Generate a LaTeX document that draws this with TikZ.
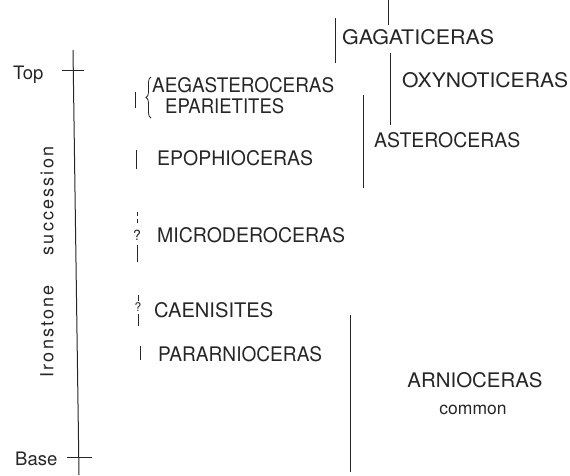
\documentclass[tikz,border=0pt]{standalone}
\usepackage{fontspec}
\usepackage{graphicx}
\setmainfont{TeX Gyre Heros}
\usetikzlibrary{decorations.pathreplacing}
\definecolor{ink}{gray}{0.15}
\newcommand{\fitcap}[2]{\resizebox{#1}{15pt}{\fontsize{19.5}{22}\selectfont #2}}
\tikzset{
  genus/.style={anchor=west, inner sep=0pt, text=ink},
  lbl/.style={inner sep=0pt, font=\fontsize{18.5}{21}\selectfont, text=ink},
  qmark/.style={inner sep=0pt, text=ink},
  rangeline/.style={draw=ink, line width=0.9pt},
  axisline/.style={draw=ink, line width=1pt}
}
\begin{document}
\begin{tikzpicture}[x=1pt, y=-1pt]
\useasboundingbox (0,0) rectangle (570,475);
% main axis
\coordinate (axtop) at (73,50);
\coordinate (axbot) at (79,475);
\draw[axisline] (axtop) -- (axbot);
\coordinate (tt1) at (62,70); \coordinate (tt2) at (84,70);
\draw[axisline] (tt1) -- (tt2);
\coordinate (bt1) at (67,457); \coordinate (bt2) at (92,457);
\draw[axisline] (bt1) -- (bt2);
\node[lbl, anchor=base west] (top) at (13,79) {Top};
\node[lbl, anchor=base west] (base) at (15,465) {Base};
\node[lbl, rotate=90, font=\fontsize{18}{21}\selectfont\addfontfeature{LetterSpace=12}] (succ) at (47,262) {Ironstone\hspace{30pt}succession};
% left column genera
\node[genus] (aeg) at (152,85) {\fitcap{182pt}{AEGASTEROCERAS}};
\node[genus] (epa) at (165,106) {\fitcap{119pt}{EPARIETITES}};
\node[genus] (epo) at (157,158) {\fitcap{156pt}{EPOPHIOCERAS}};
\node[genus] (mic) at (157,235) {\fitcap{188pt}{MICRODEROCERAS}};
\node[genus] (cae) at (154,310) {\fitcap{119pt}{CAENISITES}};
\node[genus] (par) at (158,354) {\fitcap{164pt}{PARARNIOCERAS}};
% brace
\coordinate (brb) at (151,118); \coordinate (brt) at (151,77);
\draw[ink, line width=0.8pt, decorate, decoration={brace, amplitude=5pt}] (brb) -- (brt);
% small range marks
\coordinate (m1a) at (135,92); \coordinate (m1b) at (135,108);
\draw[rangeline] (m1a) -- (m1b);
\coordinate (m2a) at (136,150); \coordinate (m2b) at (136,169);
\draw[rangeline] (m2a) -- (m2b);
\coordinate (m3a) at (137,212); \coordinate (m3b) at (137,225);
\draw[rangeline, dash pattern=on 4pt off 3pt] (m3a) -- (m3b);
\node[qmark, font=\fontsize{14}{15}\selectfont] (q1) at (137,235) {?};
\coordinate (m3c) at (137,245); \coordinate (m3d) at (137,262);
\draw[rangeline] (m3c) -- (m3d);
\coordinate (m4a) at (138,295); \coordinate (m4b) at (138,301);
\draw[rangeline] (m4a) -- (m4b);
\node[qmark, font=\fontsize{12}{13}\selectfont] (q2) at (138,307) {?};
\coordinate (m4c) at (138,314); \coordinate (m4d) at (138,326);
\draw[rangeline] (m4c) -- (m4d);
\coordinate (m5a) at (140,346); \coordinate (m5b) at (140,360);
\draw[rangeline] (m5a) -- (m5b);
% right column
\node[genus] (gag) at (342,37) {\fitcap{152pt}{GAGATICERAS}};
\node[genus] (oxy) at (402,80) {\fitcap{166pt}{OXYNOTICERAS}};
\node[genus] (ast) at (374,140) {\fitcap{146pt}{ASTEROCERAS}};
\coordinate (r0a) at (388,0); \coordinate (r0b) at (388,25);
\draw[rangeline] (r0a) -- (r0b);
\coordinate (r1a) at (335,18); \coordinate (r1b) at (335,63);
\draw[rangeline] (r1a) -- (r1b);
\coordinate (r2a) at (390,53); \coordinate (r2b) at (390,125);
\draw[rangeline] (r2a) -- (r2b);
\coordinate (r3a) at (363,95); \coordinate (r3b) at (363,188);
\draw[rangeline] (r3a) -- (r3b);
\coordinate (r4a) at (350,315); \coordinate (r4b) at (350,472);
\draw[rangeline] (r4a) -- (r4b);
\node[inner sep=0pt, text=ink] (arn) at (475,380) {\fitcap{135pt}{ARNIOCERAS}};
\node[inner sep=0pt, font=\fontsize{17.5}{20}\selectfont, text=ink] (com) at (473,410) {common};
\end{tikzpicture}
\end{document}
